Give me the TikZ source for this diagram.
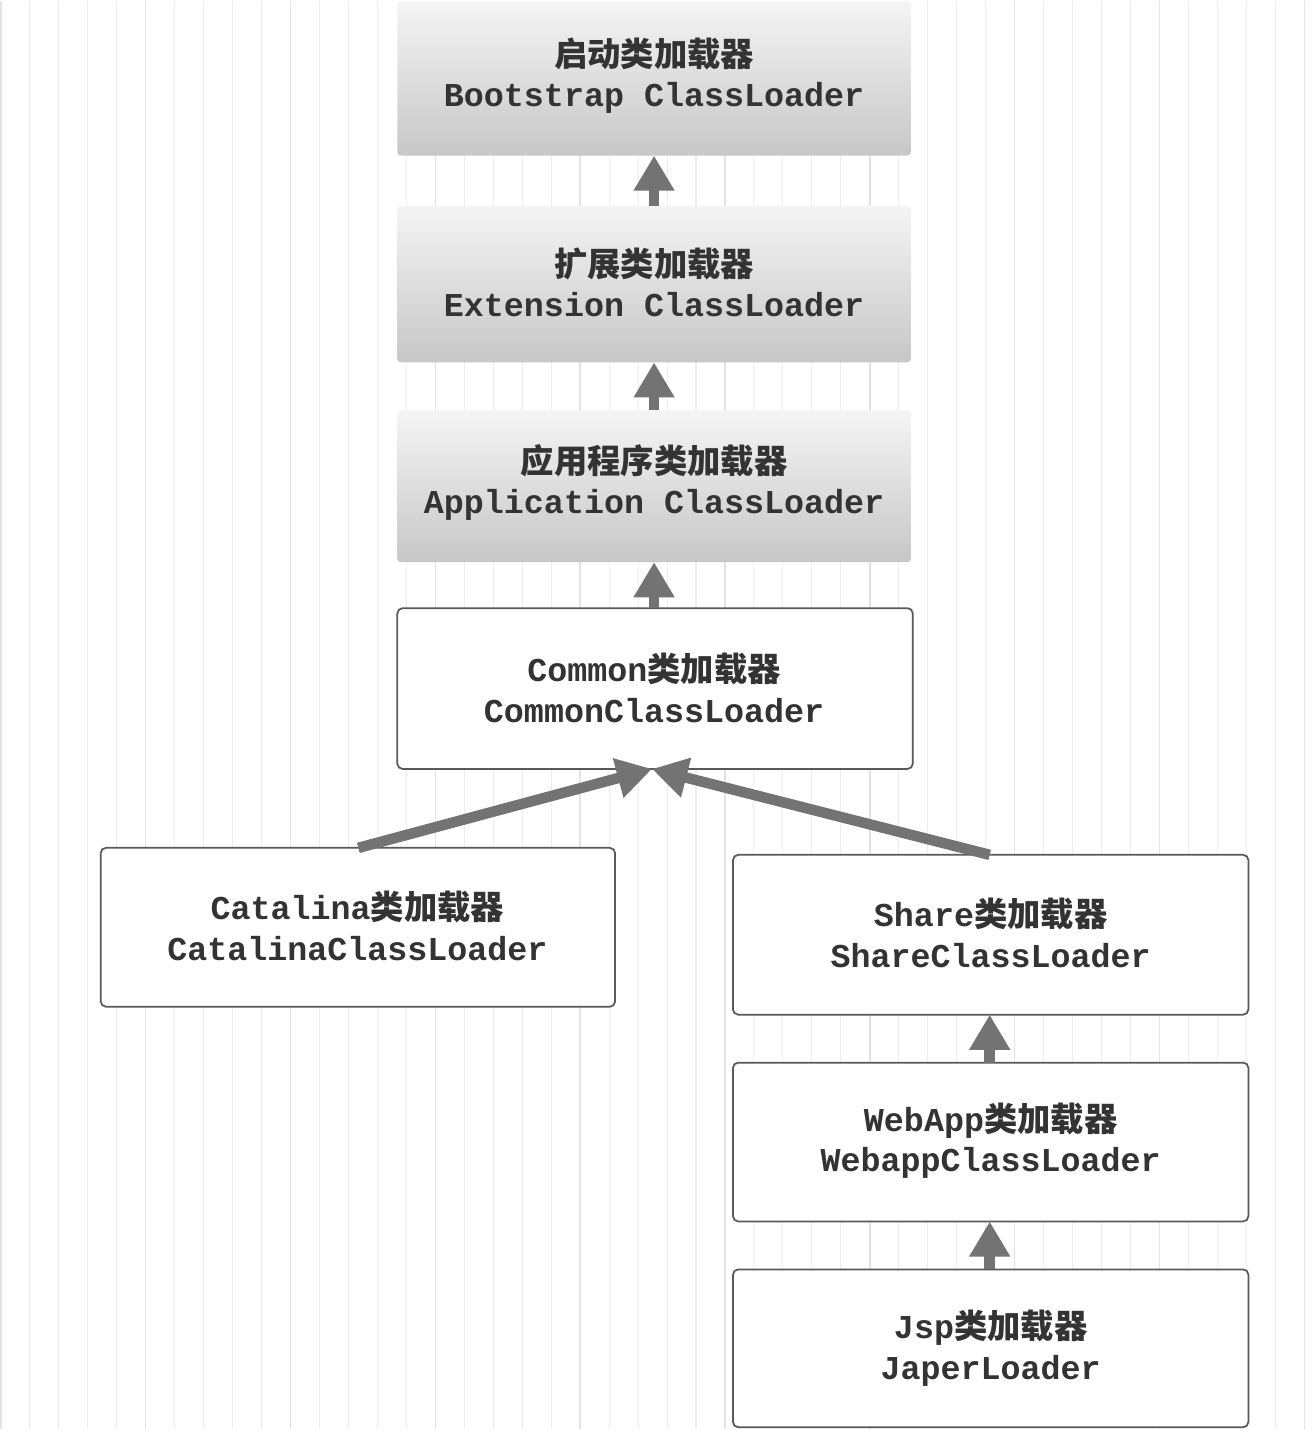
\documentclass[tikz,border=0pt]{standalone}
\usepackage{fontspec}
\setmonofont{Liberation Mono}
\newfontfamily\cjk{Noto Sans CJK SC}
\usetikzlibrary{arrows.meta}
\begin{document}
\begin{tikzpicture}[x=0.02cm,y=-0.02cm,
  lbl/.style={align=center,font=\fontsize{19}{23}\selectfont\ttfamily\bfseries,text=black!80},
  gbox/.style={draw=none,rounded corners=2pt,top color=black!4,bottom color=black!22},
  wbox/.style={draw=black!65,line width=1pt,rounded corners=3pt,fill=white},
  conn/.style={draw=black!55,line width=6pt,-{Triangle[length=20pt,width=22pt]}}]
\fill[white] (0,0) rectangle (1312,1430);
\draw[black!7,line width=0.6pt] (0,0) grid[step=29] (1312,1430);
\draw[black!11,line width=0.9pt] (0,0) grid[step=145] (1312,1430);
\path[gbox] (397,0) rectangle (911,155);
\path[gbox] (397,205) rectangle (911,362);
\path[gbox] (397,410) rectangle (911,562);
\path[wbox] (397,608) rectangle (913,769);
\path[wbox] (100,848) rectangle (615,1007);
\path[wbox] (733,855) rectangle (1249,1015);
\path[wbox] (733,1063) rectangle (1249,1222);
\path[wbox] (733,1270) rectangle (1249,1428);
\node[lbl] (boot) at (654,75) {{\cjk\bfseries 启动类加载器}\\Bootstrap ClassLoader};
\node[lbl] (ext) at (654,282) {{\cjk\bfseries 扩展类加载器}\\Extension ClassLoader};
\node[lbl] (app) at (654,482) {{\cjk\bfseries 应用程序类加载器}\\Application ClassLoader};
\node[lbl] (com) at (654,688) {Common{\cjk\bfseries 类加载器}\\CommonClassLoader};
\node[lbl] (cat) at (357,926) {Catalina{\cjk\bfseries 类加载器}\\CatalinaClassLoader};
\node[lbl] (sha) at (991,933) {Share{\cjk\bfseries 类加载器}\\ShareClassLoader};
\node[lbl] (web) at (991,1141) {WebApp{\cjk\bfseries 类加载器}\\WebappClassLoader};
\node[lbl] (jsp) at (991,1349) {Jsp{\cjk\bfseries 类加载器}\\JaperLoader};
\coordinate (b1) at (654,155); \coordinate (b2) at (654,205);
\coordinate (e1) at (654,362); \coordinate (e2) at (654,410);
\coordinate (a1) at (654,562); \coordinate (a2) at (654,608);
\coordinate (c1) at (652,769); \coordinate (c2) at (358,848); \coordinate (c3) at (990,855);
\coordinate (s1) at (990,1015); \coordinate (s2) at (990,1063);
\coordinate (w1) at (990,1222); \coordinate (w2) at (990,1270);
\draw[conn] (b2) -- (b1);
\draw[conn] (e2) -- (e1);
\draw[conn] (a2) -- (a1);
\draw[conn] (c2) -- (c1);
\draw[conn] (c3) -- (c1);
\draw[conn] (s2) -- (s1);
\draw[conn] (w2) -- (w1);
\end{tikzpicture}
\end{document}
